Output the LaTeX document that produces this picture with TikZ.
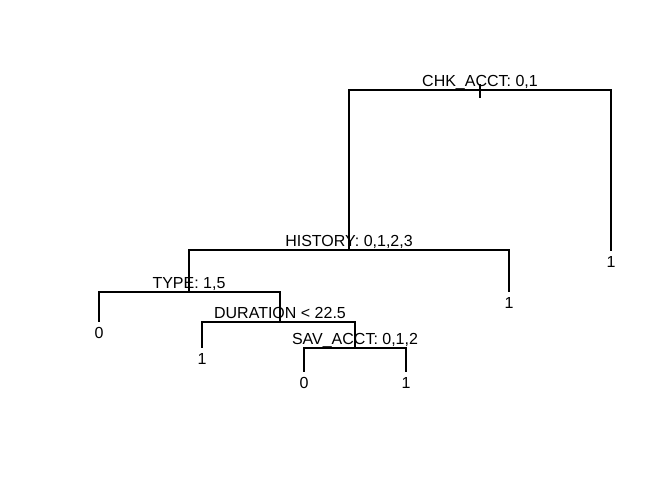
\documentclass[tikz,border=0pt]{standalone}
\usepackage{fontspec}
\setmainfont{Liberation Sans}
\usetikzlibrary{positioning}

\tikzset{
	branch/.style={draw, line width=1.2pt},
	split_label/.style={anchor=base, inner sep=0pt, yshift=3.8pt, font=\fontsize{16}{19}\selectfont},
	leaf_label/.style={anchor=base, inner sep=0pt, yshift=-16.5pt, font=\fontsize{16}{19}\selectfont}
}

\begin{document}
\begin{tikzpicture}[x=1pt, y=-1pt]
	\useasboundingbox (0,0) rectangle (672,480);

	% --- Begin Split Points ---
	\coordinate (chk) at (480,90);
	\coordinate (chk_top) at (480,84);
	\coordinate (chk_stub) at (480,98);
	\coordinate (history) at (349,250);
	\coordinate (type) at (189,292);
	\coordinate (duration) at (280,322);
	\coordinate (sav) at (355,348);
	% --- End Split Points ---

	% --- Begin Leaf Points ---
	\coordinate (chk_leaf) at (611,251);
	\coordinate (history_leaf) at (509,292);
	\coordinate (type_leaf) at (99,322);
	\coordinate (duration_leaf) at (202,348);
	\coordinate (sav_leaf_a) at (304,372);
	\coordinate (sav_leaf_b) at (406,372);
	% --- End Leaf Points ---

	% Branches go sideways from the split, then down to the child.
	\draw [branch] (chk_top) -- (chk_stub);
	\draw [branch] (chk) -| (history);
	\draw [branch] (chk) -| (chk_leaf);
	\draw [branch] (history) -| (type);
	\draw [branch] (history) -| (history_leaf);
	\draw [branch] (type) -| (type_leaf);
	\draw [branch] (type) -| (duration);
	\draw [branch] (duration) -| (duration_leaf);
	\draw [branch] (duration) -| (sav);
	\draw [branch] (sav) -| (sav_leaf_a);
	\draw [branch] (sav) -| (sav_leaf_b);

	% --- Begin Labels ---
	\node [split_label] (chk_text) at (chk) {CHK\_ACCT: 0,1};
	\node [split_label] (history_text) at (history) {HISTORY: 0,1,2,3};
	\node [split_label] (type_text) at (type) {TYPE: 1,5};
	\node [split_label] (duration_text) at (duration) {DURATION < 22.5};
	\node [split_label] (sav_text) at (sav) {SAV\_ACCT: 0,1,2};

	\node [leaf_label] (chk_leaf_text) at (chk_leaf) {1};
	\node [leaf_label] (history_leaf_text) at (history_leaf) {1};
	\node [leaf_label] (type_leaf_text) at (type_leaf) {0};
	\node [leaf_label] (duration_leaf_text) at (duration_leaf) {1};
	\node [leaf_label] (sav_leaf_a_text) at (sav_leaf_a) {0};
	\node [leaf_label] (sav_leaf_b_text) at (sav_leaf_b) {1};
	% --- End Labels ---
\end{tikzpicture}
\end{document}
